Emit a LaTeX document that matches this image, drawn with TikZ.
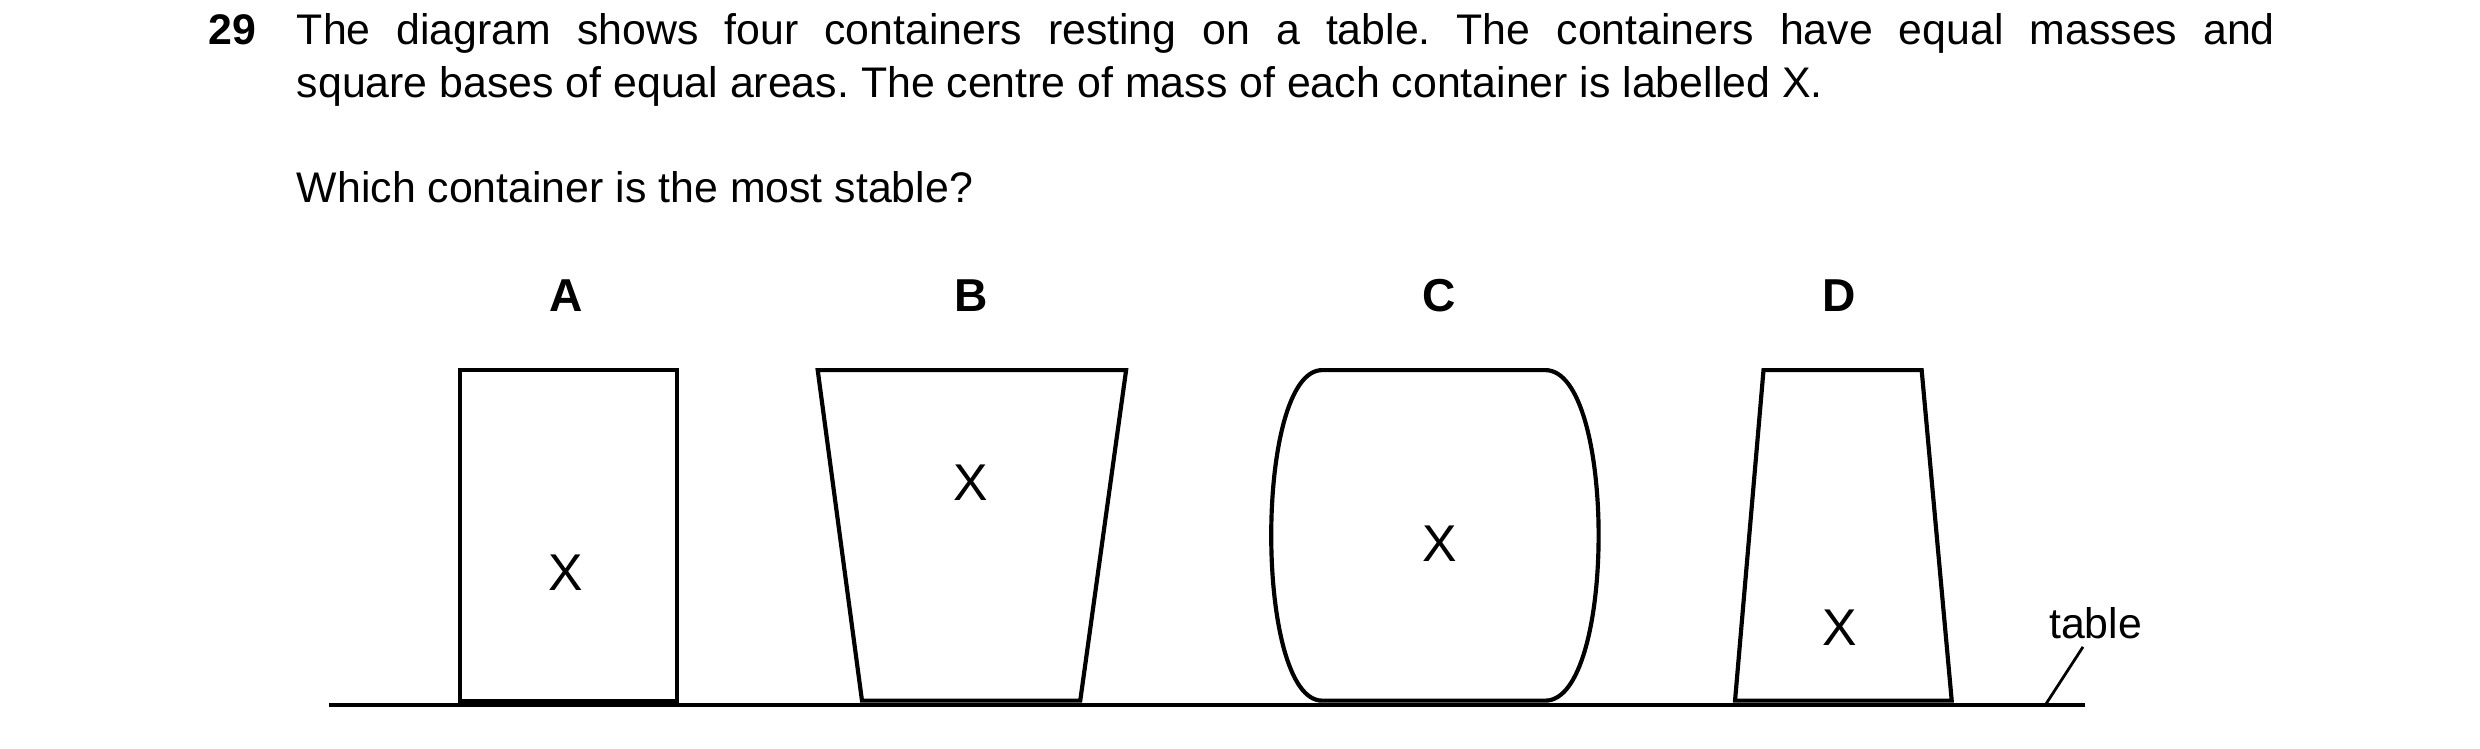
\documentclass[tikz,border=0pt]{standalone}
\usepackage{fontspec}
\setmainfont{Liberation Sans}
\begin{document}
\frenchspacing
\begin{tikzpicture}[x=0.01cm,y=-0.01cm,
  box/.style={line width=0.75pt,line join=miter},
  txt/.style={font=\fontsize{7.7}{9.6}\selectfont,inner sep=0pt},
  lab/.style={font=\fontsize{8.3}{9}\selectfont\bfseries,inner sep=0pt}]
\useasboundingbox (0,0) rectangle (1568,473);
\node[txt,anchor=base west] (num) at (131,28) {\bfseries 29};
\node[txt,anchor=base west,text width=12.5cm,align=justify] (q) at (187,28)
 {The diagram shows four containers resting on a table. The containers have equal masses and\break square bases of equal areas. The centre of mass of each container is labelled X.};
\node[txt,anchor=base west] (w) at (187,128) {Which container is the most stable?};
\node[lab] (la) at (358,187) {A};
\node[lab] (lb) at (614,187) {B};
\node[lab] (lc) at (910,187) {C};
\node[lab] (ld) at (1163,187) {D};
\coordinate (t1) at (208,446); \coordinate (t2) at (1318,446);
\draw[box] (t1) -- (t2);
\draw[box] (291,234) rectangle (428,443);
\draw[box] (517,234) -- (712,234) -- (683,443) -- (545,443) -- cycle;
\draw[box] (836,234) -- (977,234) .. controls (1022,234) and (1022,443) .. (977,443) -- (836,443) .. controls (793,443) and (793,234) .. (836,234) -- cycle;
\draw[box] (1115,234) -- (1215,234) -- (1234,443) -- (1097,443) -- cycle;
\node[txt] (xa) at (358,362) {\fontsize{9.3}{9}\selectfont X};
\node[txt] (xb) at (614,305) {\fontsize{9.3}{9}\selectfont X};
\node[txt] (xc) at (910,344) {\fontsize{9.3}{9}\selectfont X};
\node[txt] (xd) at (1163,397) {\fontsize{9.3}{9}\selectfont X};
\node[txt] (tab) at (1325,394) {table};
\coordinate (tl) at (1293,446);
\draw[line width=0.5pt] (1317,409) -- (tl);
\end{tikzpicture}
\end{document}
